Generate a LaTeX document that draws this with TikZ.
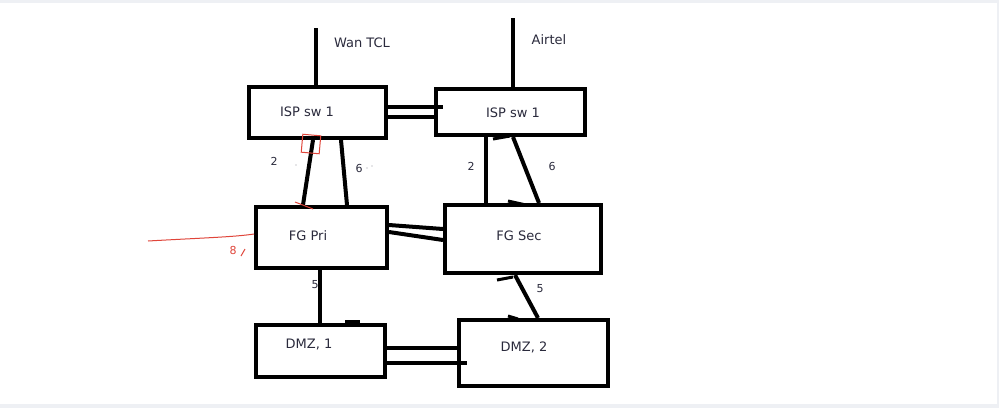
\documentclass[tikz,border=0pt]{standalone}
\usepackage{fontspec}
\setmainfont{DejaVu Sans}
\usetikzlibrary{calc}
\definecolor{frame}{HTML}{EEF0F4}
\definecolor{ink}{HTML}{2A2A3C}
\definecolor{redink}{HTML}{E0453A}
\begin{document}
\begin{tikzpicture}[x=1pt,y=-1pt,
  box/.style={draw=black,line width=4pt,inner sep=0pt,minimum width=#1},
  wire/.style={draw=black,line width=4pt},
  lbl/.style={text=ink,font=\fontsize{13}{15}\selectfont,inner sep=0pt},
  num/.style={text=ink,font=\fontsize{11}{13}\selectfont,inner sep=0pt},
  red/.style={draw=redink,line width=1pt}]
\fill[frame] (0,0) rectangle (999,408);
\fill[white] (0,3) rectangle (997,404);
\useasboundingbox (0,0) rectangle (999,408);
% boxes
\node[box=137pt,minimum height=51pt] (ispA) at (317.5,112.5) {};
\node[box=149pt,minimum height=46pt] (ispB) at (510.5,112) {};
\node[box=131pt,minimum height=61pt] (fgA) at (321.5,237.5) {};
\node[box=156pt,minimum height=68pt] (fgB) at (523,239) {};
\node[box=129pt,minimum height=52pt] (dmzA) at (320.5,351) {};
\node[box=149pt,minimum height=66pt] (dmzB) at (533.5,353) {};
% texts
\node[lbl] (tIspA) at (307,112) {ISP sw 1};
\node[lbl] (tIspB) at (513,113) {ISP sw 1};
\node[lbl] (tFgA) at (308,236) {FG Pri};
\node[lbl] (tFgB) at (519,236) {FG Sec};
\node[lbl] (tDmzA) at (309,345) {DMZ, 1};
\node[lbl] (tDmzB) at (524,347) {DMZ, 2};
\node[lbl] (tWan) at (362,43) {Wan TCL};
\node[lbl] (tAir) at (549,40) {Airtel};
% uplinks
\coordinate (wanTop) at (316,28);
\coordinate (airTop) at (513,18);
\draw[wire] (wanTop) -- (wanTop |- ispA.north);
\draw[wire] (airTop) -- (airTop |- ispB.north);
% ISP - ISP
\draw[wire] (ispA.east |- 0,107) -- ($(ispB.west |- 0,107)+(9,0)$);
\draw[wire] (ispA.east |- 0,117) -- (ispB.west |- 0,117);
% ISP A - FG Pri
\draw[wire] ($(ispA.south west)+(66,0)$) -- ($(fgA.north west)+(49,0)$);
\draw[wire] ($(ispA.south west)+(94,0)$) -- ($(fgA.north west)+(93,0)$);
% ISP B - FG Sec
\draw[wire] ($(ispB.south west)+(52,0)$) -- ($(fgB.north west)+(43,0)$);
\draw[wire] ($(ispB.south west)+(79,0)$) -- ($(fgB.north west)+(96,0)$);
% FG - FG
\draw[wire] (fgA.east |- 0,225) -- (fgB.west |- 0,229);
\draw[wire] (fgA.east |- 0,232) -- (fgB.west |- 0,240);
% FG - DMZ
\draw[wire] ($(fgA.south west)+(66,0)$) -- ($(dmzA.north west)+(66,0)$);
\draw[wire] ($(fgB.south west)+(72,0)$) -- ($(dmzB.north west)+(81,0)$);
% DMZ - DMZ
\draw[wire] (dmzA.east |- 0,348) -- (dmzB.west |- 0,348);
\draw[wire] (dmzA.east |- 0,363) -- ($(dmzB.west |- 0,363)+(10,0)$);
% small pen marks
\draw[wire,line width=3pt] (493,139) -- (510,136);
\draw[wire,line width=3pt] (508,201) -- (526,205);
\draw[wire,line width=3pt] (345,321) -- (360,321);
\draw[wire,line width=3pt] (508,316) -- (518,319);
\draw[wire,line width=3pt] (497,280) -- (513,277);
% numbers
\node[num] (n2a) at (274,161) {2};
\node[num] (n6a) at (359,168) {6};
\node[num] (n2b) at (471,166) {2};
\node[num] (n6b) at (552,166) {6};
\node[num] (n5a) at (315,285) {5};
\node[num] (n5b) at (540,289) {5};
\fill[ink!50] (296,165) circle (0.6) (367,168) circle (0.6) (372,166) circle (0.6);
% red annotations
\draw[red,rotate around={-5:(311,144)}] (302,135) rectangle (320,153);
\draw[red] (295,202) -- (313,209);
\draw[red] (148,241) .. controls (200,238) and (235,237) .. (fgA.west |- 0,234);
\node[text=redink,font=\fontsize{11}{13}\selectfont,inner sep=0pt] (r8) at (233,250) {8};
\draw[red] (241,256) -- (245,249);
\end{tikzpicture}
\end{document}
